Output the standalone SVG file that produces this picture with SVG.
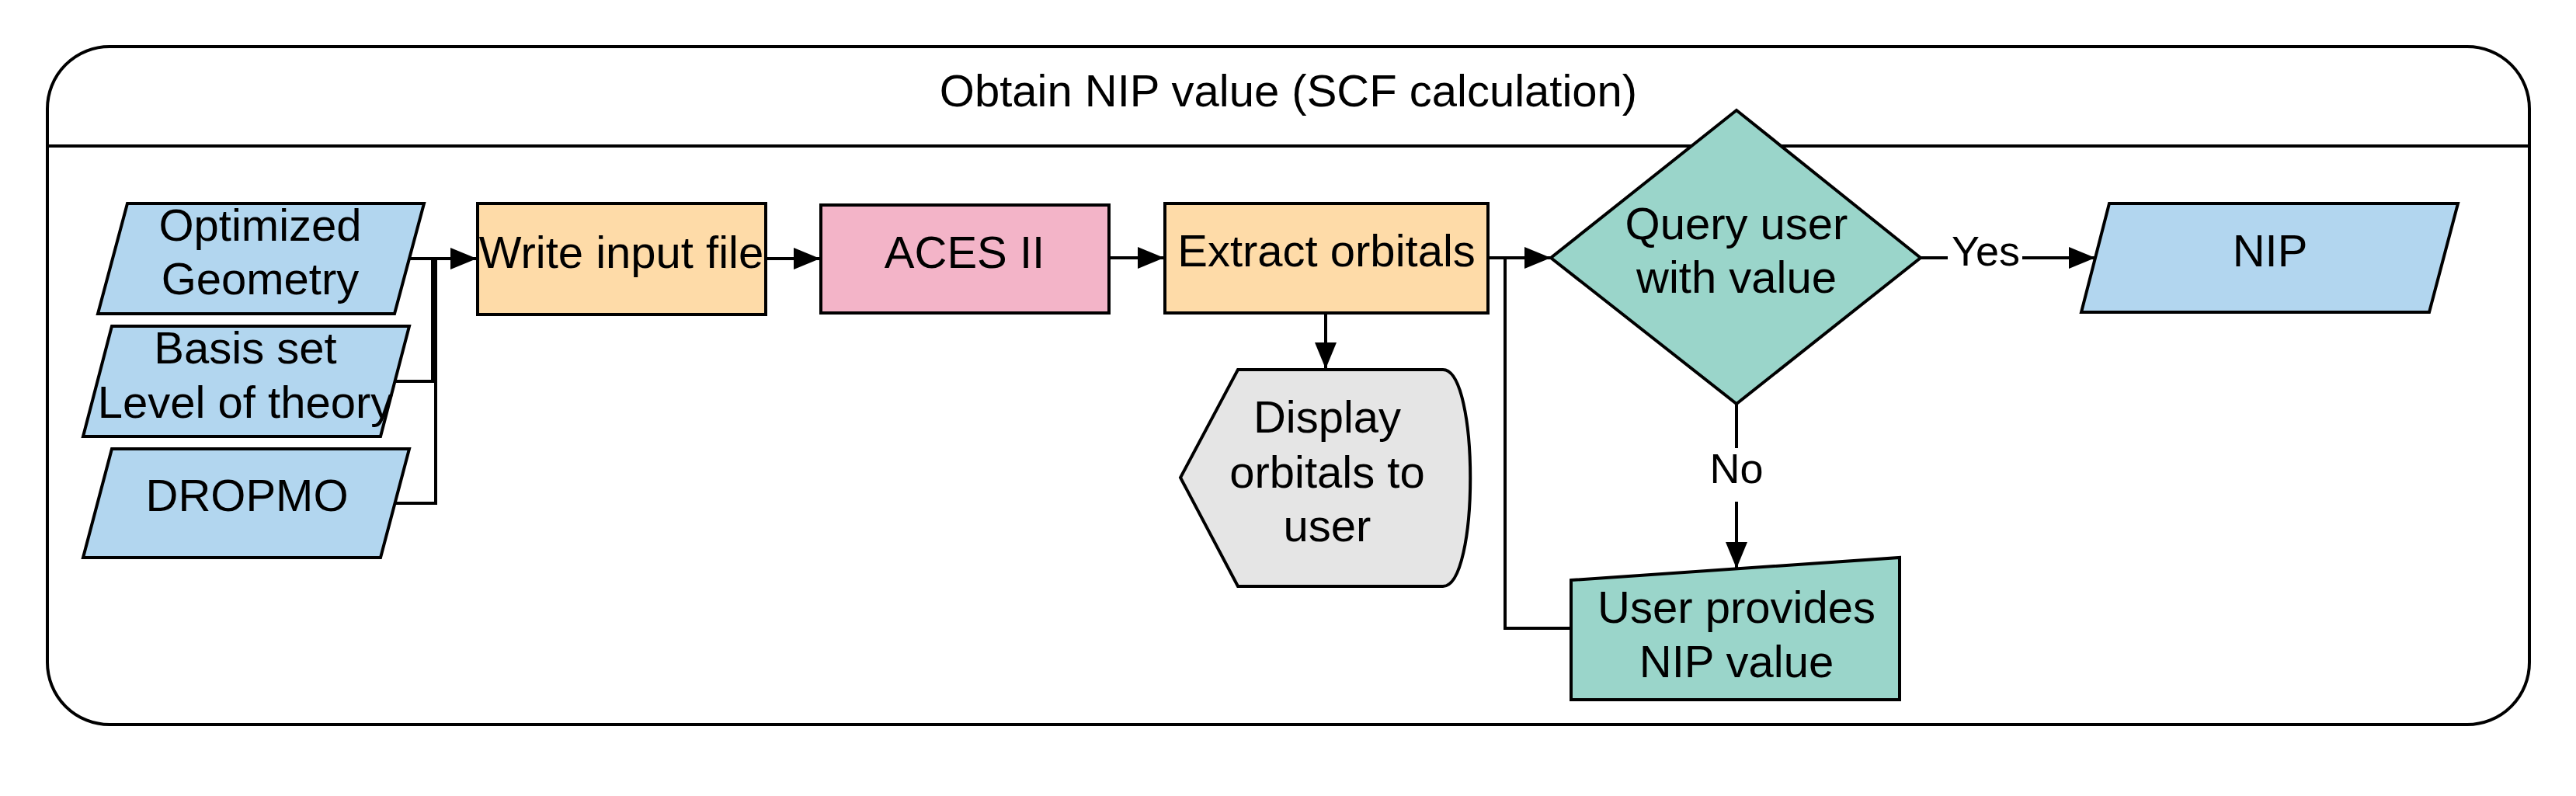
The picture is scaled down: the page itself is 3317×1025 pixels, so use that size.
<svg xmlns="http://www.w3.org/2000/svg" width="3317" height="1025" viewBox="0 0 3317 1025">
<style>
.sh{stroke:#000;stroke-width:4;stroke-linejoin:miter}
.blue{fill:#B2D6EF}.orange{fill:#FEDBA8}.pink{fill:#F3B4C8}.teal{fill:#9AD5CA}.gray{fill:#E5E5E5}
text{font-family:"Liberation Sans",Arial,sans-serif;font-size:58px;fill:#000;text-anchor:middle}
.lbl{font-size:54px}
.con{fill:none;stroke:#000;stroke-width:4}
</style>
<defs>
<marker id="arr" markerUnits="userSpaceOnUse" markerWidth="36" markerHeight="30" refX="34" refY="14" orient="auto" viewBox="0 0 36 30">
<path d="M0,0 L34,14 L0,28 Z" fill="#000"/>
</marker>
</defs>
<rect width="3317" height="1025" fill="#fff"/>
<g id="container">
<rect x="61" y="60" width="3196" height="873" rx="80" ry="80" fill="#fff" stroke="#000" stroke-width="4"/>
<line x1="61" y1="188" x2="3257" y2="188" stroke="#000" stroke-width="4"/>
<text x="1659" y="137" font-size="59.5">Obtain NIP value (SCF calculation)</text>
</g>
<g id="connectors">
<path class="con" d="M496,491 H557 V333"/>
<path class="con" d="M508,648 H561 V333"/>
<path class="con" d="M513,333 H614" marker-end="url(#arr)"/>
<path class="con" d="M986,333 H1056" marker-end="url(#arr)"/>
<path class="con" d="M1428,332 H1499" marker-end="url(#arr)"/>
<path class="con" d="M1707,403 V475" marker-end="url(#arr)"/>
<path class="con" d="M1916,332 H1997" marker-end="url(#arr)"/>
<path class="con" d="M2023,809 H1938 V332"/>
<path class="con" d="M2473,332 H2698" marker-end="url(#arr)"/>
<path class="con" d="M2236,520 V732" marker-end="url(#arr)"/>
<rect x="2508" y="296" width="96" height="60" fill="#fff"/>
<text class="lbl" x="2557" y="342">Yes</text>
<rect x="2200" y="577" width="72" height="69" fill="#fff"/>
<text class="lbl" x="2236" y="622">No</text>
</g>
<g id="optimized">
<polygon class="sh blue" points="164,262 546,262 508,404 126,404"/>
<text x="335" y="310">Optimized</text>
<text x="335" y="379">Geometry</text>
</g>
<g id="basis">
<polygon class="sh blue" points="144,420 527,420 490,562 107,562"/>
<text x="316" y="468">Basis set</text>
<text x="316" y="538">Level of theory</text>
</g>
<g id="dropmo">
<polygon class="sh blue" points="144,578 527,578 490,718 107,718"/>
<text x="318" y="658">DROPMO</text>
</g>
<g id="write">
<rect class="sh orange" x="615" y="262" width="371" height="143"/>
<text x="800" y="345">Write input file</text>
</g>
<g id="aces">
<rect class="sh pink" x="1057" y="264" width="371" height="139"/>
<text x="1242" y="345">ACES II</text>
</g>
<g id="extract">
<rect class="sh orange" x="1500" y="262" width="416" height="141"/>
<text x="1708" y="343">Extract orbitals</text>
</g>
<g id="display">
<path class="sh gray" d="M1520,615 L1594,476 L1858,476 C1905,476 1905,755 1858,755 L1594,755 Z"/>
<text x="1709" y="557">Display</text>
<text x="1709" y="628">orbitals to</text>
<text x="1709" y="697">user</text>
</g>
<g id="query">
<polygon class="sh teal" points="2236,142 2473,332 2236,520 1997,332"/>
<text x="2236" y="308">Query user</text>
<text x="2236" y="377">with value</text>
</g>
<g id="nip">
<polygon class="sh blue" points="2716,262 3165,262 3128,402 2680,402"/>
<text x="2923" y="343">NIP</text>
</g>
<g id="userprovides">
<polygon class="sh teal" points="2023,747 2446,718 2446,901 2023,901"/>
<text x="2236" y="802">User provides</text>
<text x="2236" y="872">NIP value</text>
</g>
</svg>
